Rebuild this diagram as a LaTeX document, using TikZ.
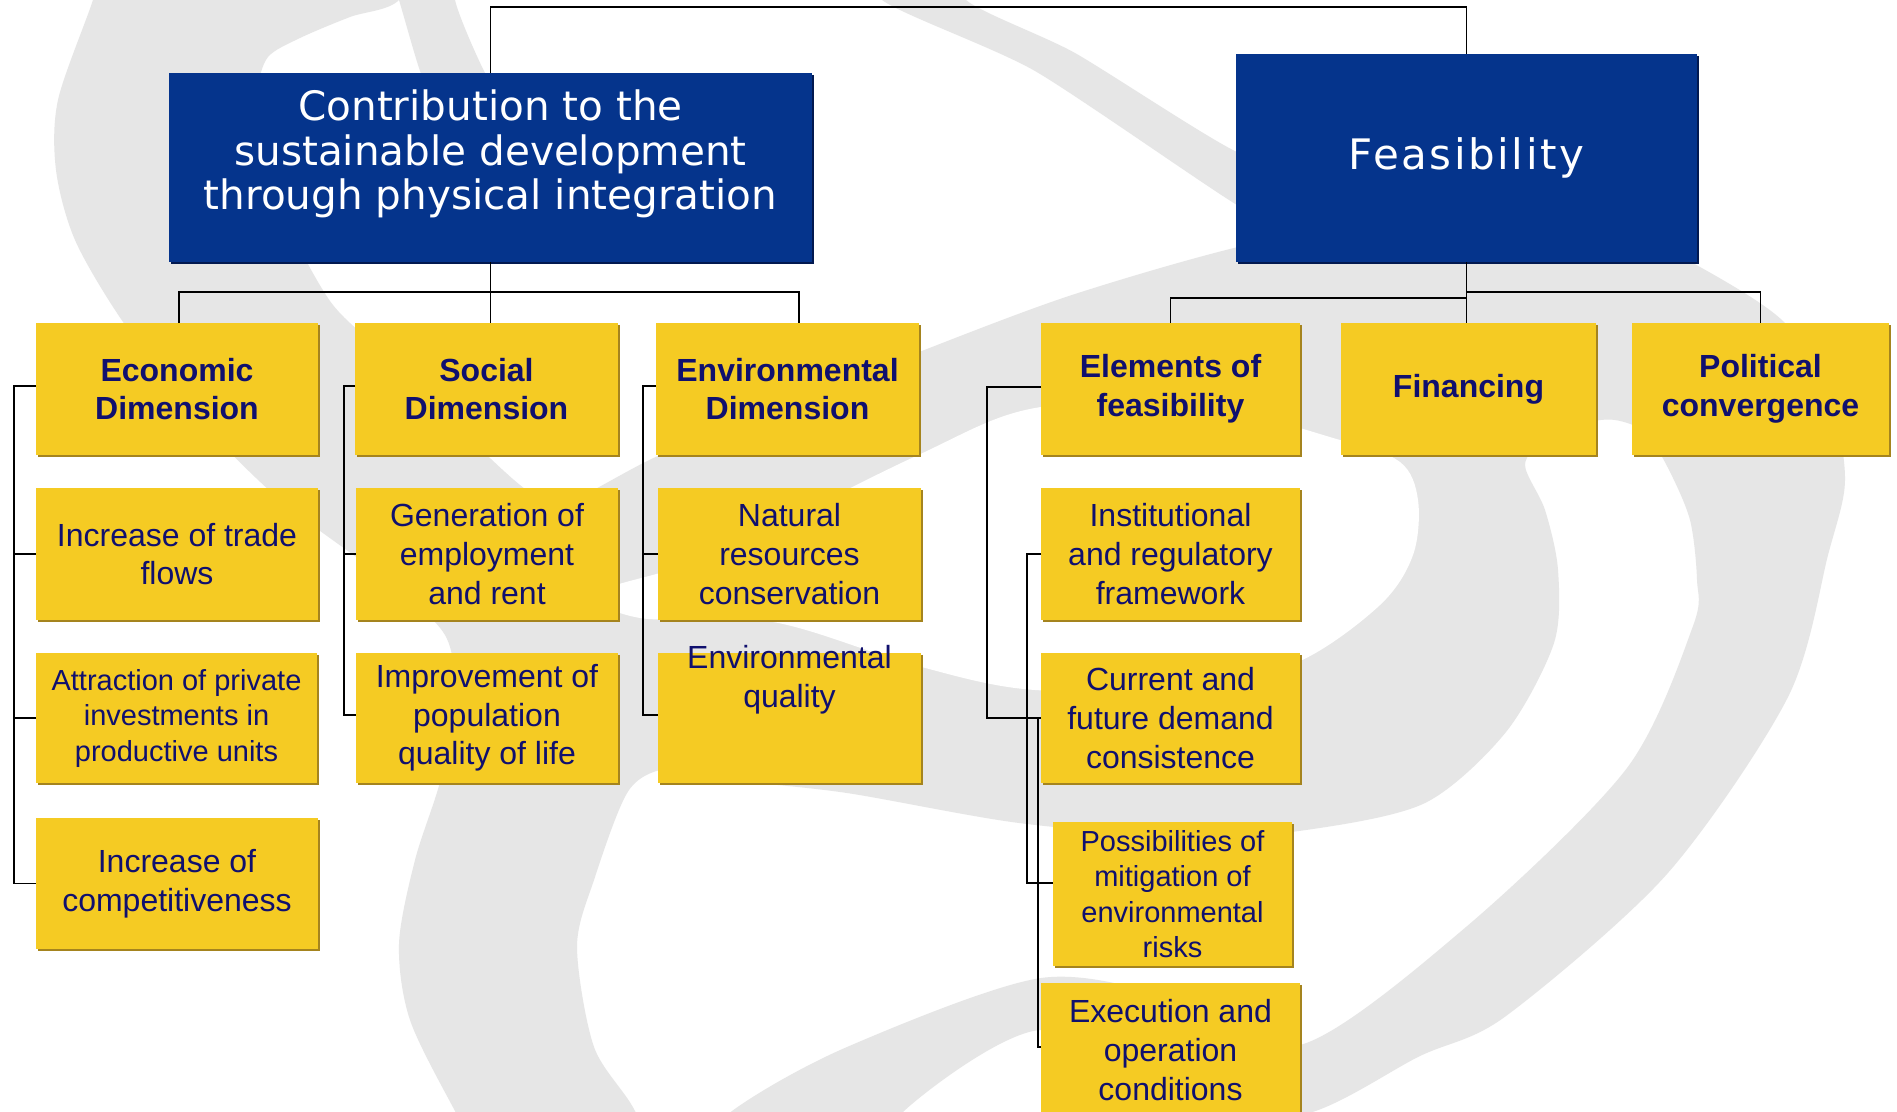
\documentclass[tikz,border=0pt]{standalone}
\usepackage{fontspec}
\setmainfont{Liberation Sans}
\newfontfamily\bluefont{DejaVu Sans}
\newfontfamily\feasfont[LetterSpace=6]{DejaVu Sans}
\usetikzlibrary{shadows}
\definecolor{navytext}{RGB}{16,16,110}
\definecolor{boxblue}{RGB}{5,52,140}
\definecolor{boxyellow}{RGB}{245,203,35}
\definecolor{yshadow}{RGB}{165,132,30}
\definecolor{bshadow}{RGB}{2,25,80}
\definecolor{wmgrey}{RGB}{230,230,230}
\tikzset{
  wh/.style 2 args={minimum width=#1pt, minimum height=#2pt},
  ybox/.style={fill=boxyellow, text=navytext, align=center, inner sep=0pt, outer sep=0pt,
    general shadow={fill=yshadow, shadow xshift=2.2pt, shadow yshift=-2.2pt},
    font=\fontsize{32}{38.7}\selectfont},
  ttl/.style={font=\fontsize{32}{38.7}\selectfont\bfseries},
  smalltxt/.style={font=\fontsize{29}{35.5}\selectfont},
  bbox/.style={fill=boxblue, inner sep=0pt, outer sep=0pt,
    general shadow={fill=bshadow, shadow xshift=2.2pt, shadow yshift=-2.2pt}},
  btext/.style={text=white, align=center, inner sep=0pt, font=\bluefont\fontsize{40.5}{44.8}\selectfont},
  conn/.style={draw=black, line width=1.8pt},
}
\begin{document}
\begin{tikzpicture}[x=1pt,y=-1pt]
\useasboundingbox (0,0) rectangle (1897,1111);
\fill[white] (0,0) rectangle (1897,1111);
% watermark
\begin{scope}
\clip (0,0) rectangle (1897,1111);
\fill[wmgrey] plot[smooth, tension=0.5] coordinates {
 (110,-60) (93,0) (58,100) (56,170) (75,240) (121,319) (190,410) (280,500) (380,575)
 (445,635) (455,705) (440,782) (415,860) (399,944) (410,1020) (455,1111) (500,1190)
 (665,1190) (635,1111) (594,1047) (577,947) (594,880) (629,790) (672,768)
 (732,780) (847,793) (1019,823) (1191,837) (1306,830) (1425,803) (1506,732) (1554,643)
 (1558,570) (1545,510) (1525,465) (1545,440) (1585,423) (1615,420) (1645,432) (1668,468)
 (1690,520) (1697,580) (1693,626)
 (1627,768) (1466,927)
 (1300,1045) (1180,1000) (1041,978) (847,1047) (732,1111) (680,1170) (890,1170) (904,1111)
 (1040,1030) (1180,1090) (1300,1115) (1420,1056) (1506,1016) (1667,874) (1788,697)
 (1828,555) (1845,480) (1830,400) (1784,322) (1691,262) (1600,220) (1450,215) (1264,241)
 (1075,294) (914,354) (800,400) (660,455) (560,505) (520,485) (440,410) (380,350)
 (330,301) (282,212) (262,141) (258,90) (268,57) (300,38) (350,17) (399,0) (425,-60)}
 -- (425,-200) -- (110,-200) -- cycle;
\fill[wmgrey] plot[smooth cycle, tension=0.4] coordinates {
 (860,-60) (882,0) (1035,71) (1237,205) (1330,250) (1330,170) (1237,152) (1075,53) (966,0) (945,-60)};
\fill[wmgrey] plot[smooth cycle, tension=0.4] coordinates {
 (380,-60) (399,0) (420,71) (450,150) (500,200) (530,150) (484,71) (455,0) (455,-60)};
\fill[white] plot[smooth cycle, tension=0.55] coordinates {
 (600,592) (713,555) (914,457) (1035,408) (1200,405) (1340,440) (1400,462) (1418,500)
 (1413,555) (1380,605) (1300,661) (1200,685) (1035,690) (914,665) (773,622) (640,618)};
\end{scope}
% top level boxes
\node[bbox, wh={643}{189}] (b1) at (490.5,167.5) {};
\node[btext] (b1t) at (490.5,154) {Contribution to the\\sustainable development\\through physical integration};
\node[bbox, wh={461}{208}, text=white, font=\feasfont\fontsize{42}{48}\selectfont] (b2) at (1466.5,158) {Feasibility};
% level 1
\node[ybox, ttl, wh={282}{132}] (econ) at (177,389) {Economic\\Dimension};
\node[ybox, ttl, wh={263}{132}] (soc) at (486.5,389) {Social\\Dimension};
\node[ybox, ttl, wh={263}{132}] (env) at (787.5,389) {Environmental\\Dimension};
\node[ybox, ttl, wh={259}{132}] (elem) at (1170.5,389) {Elements of\\feasibility};
\node[ybox, ttl, wh={255}{132}] (fin) at (1468.5,389) {Financing};
\node[ybox, ttl, wh={257}{132}] (pol) at (1760.5,389) {Political\\convergence};
% level 2
\node[ybox, wh={282}{132}] (trade) at (177,554) {Increase of trade\\flows};
\node[ybox, smalltxt, wh={281}{130}] (attr) at (176.5,718) {Attraction of private\\investments in\\productive units};
\node[ybox, wh={282}{131}] (comp) at (177,883.5) {Increase of\\competitiveness};
\node[ybox, wh={262}{132}] (gen) at (487,554) {Generation of\\employment\\and rent};
\node[ybox, wh={262}{130}] (imp) at (487,718) {Improvement of\\population\\quality of life};
\node[ybox, wh={263}{132}] (nat) at (789.5,554) {Natural\\resources\\conservation};
\node[ybox, wh={263}{130}] (envq) at (789.5,718) {};
\node[text=navytext, align=center, inner sep=0pt, font=\fontsize{32}{38.7}\selectfont] (envqt) at (789.5,680) {Environmental\\quality};
\node[ybox, wh={259}{132}] (inst) at (1170.5,554) {Institutional\\and regulatory\\framework};
\node[ybox, wh={259}{130}] (cur) at (1170.5,718) {Current and\\future demand\\consistence};
\node[ybox, smalltxt, wh={239}{144}] (poss) at (1172.5,894) {Possibilities of\\mitigation of\\environmental\\risks};
\node[ybox, wh={259}{134}] (exec) at (1170.5,1050) {Execution and\\operation\\conditions};
% connectors
\draw[conn] (b1.north) -- (b1.north |- 0,7) -| (b2.north);
\draw[conn] (b1.south) -- (soc.north -| b1.south);
\draw[conn] (econ.north -| 179,0) |- (b1.south |- 0,292) -| (env.north -| 799,0);
\draw[conn] (b2.south) -- (fin.north -| b2.south);
\draw[conn] (b2.south |- 0,292) -| (pol.north);
\draw[conn] (elem.north) |- (b2.south |- 0,298);
\draw[conn] ([yshift=3pt]econ.west) -- ++(-22,0) |- (comp.west);
\draw[conn] (trade.west) -- ++(-22,0);
\draw[conn] (attr.west) -- ++(-22,0);
\draw[conn] ([yshift=3pt]soc.west) -- ++(-11,0) |- ([yshift=3pt]imp.west);
\draw[conn] (gen.west) -- ++(-12,0);
\draw[conn] ([yshift=3pt]env.west) -- ++(-13,0) |- ([yshift=3pt]envq.west);
\draw[conn] (nat.west) -- ++(-15,0);
\draw[conn] ([yshift=2pt]elem.west) -- ++(-54,0) |- (cur.west);
\draw[conn] (inst.west) -- ++(-14,0) |- ([yshift=11pt]poss.west);
\draw[conn] (cur.west) -- ++(-3,0) |- ([yshift=3pt]exec.west);
\end{tikzpicture}
\end{document}
